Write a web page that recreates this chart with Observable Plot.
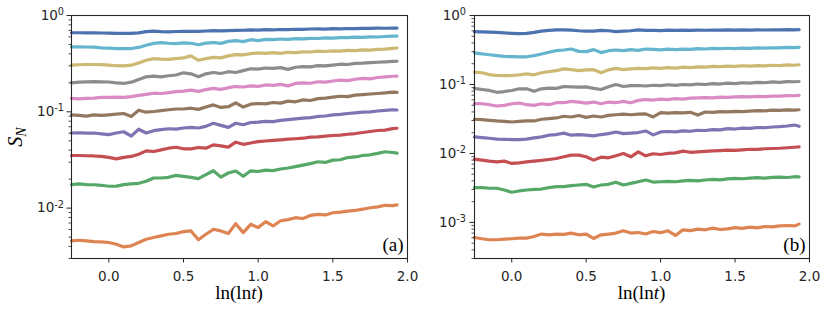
<!DOCTYPE html>
<html><head><meta charset="utf-8">
<script src="https://cdn.jsdelivr.net/npm/d3@7"></script>
<script src="https://cdn.jsdelivr.net/npm/@observablehq/plot@0.6"></script>
<style>
body{margin:0;background:#fff;}
#wrap{display:flex;width:830px;height:317px;overflow:hidden;background:#fff;}
#wrap svg{flex:none;}
</style></head><body><div id="wrap"></div>
<script>
// x values: ln(ln t)
const xs = [-0.25,-0.2,-0.15,-0.1,-0.05,0,0.05,0.1,0.15,0.2,0.25,0.3,0.35,0.4,0.45,0.5,0.55,0.6,0.65,0.7,0.75,0.8,0.85,0.9,0.95,1,1.05,1.1,1.15,1.2,1.25,1.3,1.35,1.4,1.45,1.5,1.55,1.6,1.65,1.7,1.75,1.8,1.85,1.9,1.93];

// series colours (seaborn deep), top to bottom
const seriesColors = ["#4C72B0","#64B5CD","#CCB974","#8C8C8C","#DA8BC3","#937860","#8172B3","#C44E52","#55A868","#DD8452"];

// panel (a)
const blueA = [0.662,0.662,0.661,0.660,0.658,0.656,0.652,0.651,0.653,0.660,0.680,0.689,0.681,0.676,0.682,0.684,0.686,0.683,0.690,0.698,0.694,0.697,0.700,0.703,0.708,0.706,0.712,0.710,0.716,0.714,0.720,0.718,0.724,0.727,0.723,0.730,0.728,0.733,0.731,0.736,0.734,0.738,0.737,0.741,0.740];
const cyanA = [0.472,0.472,0.471,0.469,0.462,0.458,0.453,0.452,0.454,0.466,0.491,0.513,0.523,0.515,0.511,0.519,0.515,0.497,0.516,0.524,0.514,0.539,0.548,0.535,0.561,0.548,0.566,0.561,0.570,0.566,0.575,0.571,0.580,0.577,0.585,0.583,0.590,0.588,0.595,0.592,0.600,0.598,0.605,0.610,0.612];
const oliveA = [0.305,0.308,0.310,0.310,0.309,0.305,0.301,0.300,0.305,0.322,0.343,0.357,0.352,0.351,0.357,0.363,0.381,0.343,0.357,0.368,0.363,0.381,0.393,0.390,0.402,0.410,0.405,0.412,0.404,0.415,0.412,0.420,0.418,0.426,0.423,0.430,0.427,0.435,0.432,0.440,0.437,0.445,0.448,0.456,0.460];
const grayA = [0.200,0.203,0.205,0.206,0.205,0.204,0.200,0.197,0.203,0.217,0.231,0.235,0.231,0.237,0.241,0.254,0.248,0.231,0.248,0.256,0.250,0.261,0.256,0.268,0.280,0.277,0.285,0.282,0.288,0.276,0.290,0.295,0.293,0.302,0.300,0.306,0.312,0.310,0.318,0.320,0.324,0.327,0.330,0.334,0.335];
const pinkA = [0.138,0.136,0.138,0.139,0.141,0.141,0.142,0.141,0.144,0.148,0.152,0.156,0.155,0.158,0.162,0.164,0.168,0.163,0.170,0.175,0.171,0.178,0.183,0.181,0.186,0.184,0.190,0.188,0.193,0.186,0.197,0.200,0.198,0.205,0.203,0.209,0.213,0.211,0.218,0.222,0.220,0.227,0.231,0.234,0.235];
const brownA = [0.0931,0.0917,0.0903,0.0931,0.0917,0.0931,0.0945,0.0960,0.0896,0.1040,0.0991,0.1007,0.103,0.105,0.107,0.107,0.109,0.106,0.112,0.118,0.111,0.113,0.124,0.112,0.120,0.122,0.121,0.125,0.123,0.129,0.127,0.133,0.131,0.137,0.139,0.142,0.145,0.144,0.149,0.151,0.153,0.155,0.157,0.160,0.159];
const purpleA = [0.0603,0.0606,0.0600,0.0603,0.0591,0.0579,0.0603,0.0621,0.0560,0.0660,0.0603,0.0637,0.0652,0.0667,0.0662,0.0679,0.0690,0.0679,0.0706,0.0760,0.0723,0.0690,0.0761,0.0735,0.0775,0.0780,0.0795,0.0790,0.0815,0.0830,0.0845,0.0861,0.0870,0.0895,0.0905,0.0931,0.0940,0.0960,0.0975,0.0991,0.1000,0.1020,0.1035,0.1050,0.1045];
const redA = [0.0352,0.0352,0.0350,0.0348,0.0344,0.0336,0.0325,0.0336,0.0344,0.0363,0.0393,0.0387,0.0403,0.0419,0.0429,0.0413,0.0413,0.0426,0.0419,0.0454,0.0443,0.0430,0.0484,0.0460,0.0475,0.0491,0.0498,0.0505,0.0512,0.0520,0.0525,0.0532,0.0545,0.0550,0.0560,0.0568,0.0572,0.0585,0.0595,0.0610,0.0625,0.0640,0.0645,0.0670,0.0675];
const greenA = [0.01755,0.01784,0.01755,0.01750,0.01727,0.01687,0.01690,0.01755,0.01784,0.01811,0.0190,0.02056,0.02056,0.0209,0.0219,0.0214,0.0209,0.02024,0.02226,0.02446,0.0210,0.02315,0.0243,0.0214,0.0244,0.0240,0.0248,0.0245,0.0255,0.0261,0.0270,0.0280,0.0290,0.0303,0.0298,0.0315,0.0318,0.0335,0.0340,0.0352,0.0358,0.0370,0.0385,0.0378,0.0372];
const orangeA = [0.00457,0.00464,0.00457,0.00450,0.00446,0.00440,0.00422,0.00396,0.00406,0.00440,0.00476,0.00495,0.00515,0.00536,0.00545,0.00571,0.00580,0.00470,0.00536,0.00603,0.00580,0.00545,0.00690,0.00557,0.00679,0.00628,0.00724,0.00653,0.00740,0.00760,0.00796,0.00780,0.00840,0.00861,0.00850,0.00896,0.00910,0.00930,0.00946,0.00975,0.0101,0.0103,0.0107,0.0106,0.0108];

// panel (b)
const blueB = [0.582,0.580,0.575,0.569,0.560,0.551,0.545,0.550,0.569,0.594,0.607,0.620,0.620,0.613,0.601,0.594,0.594,0.607,0.601,0.585,0.594,0.601,0.620,0.607,0.610,0.605,0.612,0.608,0.613,0.609,0.614,0.611,0.615,0.612,0.617,0.613,0.618,0.615,0.620,0.616,0.621,0.618,0.622,0.620,0.622];
const cyanB = [0.287,0.277,0.270,0.262,0.255,0.253,0.251,0.252,0.262,0.277,0.293,0.309,0.316,0.327,0.302,0.299,0.320,0.290,0.309,0.316,0.309,0.320,0.312,0.327,0.322,0.318,0.325,0.320,0.326,0.323,0.330,0.327,0.333,0.330,0.335,0.332,0.337,0.334,0.339,0.337,0.341,0.339,0.344,0.342,0.346];
const oliveB = [0.151,0.148,0.139,0.135,0.134,0.135,0.138,0.1426,0.138,0.148,0.154,0.159,0.168,0.164,0.159,0.163,0.164,0.148,0.163,0.171,0.164,0.168,0.171,0.170,0.174,0.171,0.176,0.173,0.178,0.175,0.180,0.178,0.183,0.181,0.185,0.183,0.187,0.185,0.188,0.186,0.190,0.188,0.192,0.190,0.193];
const grayB = [0.0877,0.0846,0.0819,0.0770,0.0790,0.0819,0.0866,0.0866,0.0800,0.0866,0.0886,0.0877,0.0935,0.0925,0.0915,0.0925,0.0877,0.0846,0.0925,0.1000,0.0935,0.0960,0.0967,0.0950,0.0975,0.0960,0.0990,0.0970,0.1000,0.0985,0.1015,0.1000,0.1030,0.1015,0.1045,0.1030,0.1060,0.1045,0.1075,0.1060,0.1090,0.1075,0.1100,0.1095,0.1104];
const pinkB = [0.0526,0.0526,0.0509,0.0487,0.0498,0.0526,0.0538,0.0509,0.0498,0.0526,0.0509,0.0544,0.0544,0.0569,0.0556,0.0538,0.0556,0.0526,0.0556,0.0544,0.0569,0.0544,0.0588,0.0605,0.0595,0.0615,0.0605,0.0625,0.0615,0.0635,0.0640,0.0645,0.0640,0.0655,0.0650,0.0660,0.0665,0.0660,0.0672,0.0668,0.0680,0.0678,0.0688,0.0686,0.0694];
const brownB = [0.0313,0.0309,0.0302,0.0296,0.0292,0.0286,0.0292,0.0296,0.0296,0.0313,0.0320,0.0327,0.0346,0.0338,0.0355,0.0334,0.0349,0.0338,0.0357,0.0364,0.0372,0.0364,0.0372,0.0375,0.0338,0.0390,0.0385,0.0392,0.0388,0.0395,0.0360,0.0399,0.0395,0.0403,0.0400,0.0408,0.0405,0.0412,0.0418,0.0415,0.0425,0.0422,0.0428,0.0426,0.0430];
const purpleB = [0.0174,0.0170,0.0166,0.0161,0.0160,0.0159,0.0159,0.0161,0.0168,0.0174,0.0184,0.0188,0.0197,0.0184,0.0188,0.0184,0.0180,0.0188,0.0194,0.0205,0.0194,0.0197,0.0201,0.0212,0.0186,0.0205,0.0208,0.0205,0.0212,0.0210,0.0217,0.0215,0.0222,0.0220,0.0229,0.0226,0.0233,0.0231,0.0238,0.0236,0.0242,0.0245,0.0250,0.0258,0.0248];
const redB = [0.00827,0.00800,0.00774,0.00756,0.00774,0.00716,0.00732,0.00756,0.00774,0.00792,0.00818,0.00846,0.00894,0.00945,0.00945,0.00894,0.00800,0.00884,0.00865,0.00925,0.01000,0.00894,0.01056,0.00925,0.00990,0.00966,0.01000,0.01020,0.01079,0.01040,0.01056,0.01070,0.01090,0.01100,0.01116,0.01105,0.01130,0.01150,0.01145,0.01170,0.01179,0.01190,0.01210,0.01230,0.01246];
const greenB = [0.00319,0.00319,0.00313,0.00313,0.00295,0.00274,0.00286,0.00295,0.00302,0.00305,0.00319,0.00330,0.00330,0.00341,0.00349,0.00357,0.00326,0.00349,0.00357,0.00382,0.00349,0.00369,0.00389,0.00412,0.00385,0.00389,0.00395,0.00389,0.00400,0.00408,0.00400,0.00412,0.00420,0.00415,0.00428,0.00436,0.00430,0.00440,0.00445,0.00438,0.00450,0.00455,0.00448,0.00460,0.00459];
const orangeB = [0.000605,0.000580,0.000561,0.000561,0.000574,0.000580,0.000593,0.000593,0.000626,0.000678,0.000662,0.000678,0.000670,0.000701,0.000662,0.000678,0.000585,0.000662,0.000678,0.000701,0.000756,0.000701,0.000715,0.000680,0.000739,0.000710,0.000756,0.000647,0.000782,0.000760,0.000800,0.000782,0.000827,0.000790,0.000808,0.000840,0.000820,0.000855,0.000835,0.000873,0.000860,0.000890,0.000902,0.000890,0.000945];

// ticks
const xTicks = [0, 0.5, 1, 1.5, 2];
const yMajorA = [0.01, 0.1, 1];
const yMinorA = [0.003,0.004,0.005,0.006,0.007,0.008,0.009,0.02,0.03,0.04,0.05,0.06,0.07,0.08,0.09,0.2,0.3,0.4,0.5,0.6,0.7,0.8,0.9];
const yMajorB = [0.001, 0.01, 0.1, 1];
const yMinorB = [0.0003,0.0004,0.0005,0.0006,0.0007,0.0008,0.0009,0.002,0.003,0.004,0.005,0.006,0.007,0.008,0.009,0.02,0.03,0.04,0.05,0.06,0.07,0.08,0.09,0.2,0.3,0.4,0.5,0.6,0.7,0.8,0.9];
const panelLabels = ["(a)", "(b)"];

const seriesA = [blueA, cyanA, oliveA, grayA, pinkA, brownA, purpleA, redA, greenA, orangeA];
const seriesB = [blueB, cyanB, oliveB, grayB, pinkB, brownB, purpleB, redB, greenB, orangeB];

function rows(series) {
  return series.flatMap((vals, i) => vals.map((v, j) => ({x: xs[j], y: v, s: i, c: seriesColors[i]})));
}

const ink = "#262626";
const serif = "'Liberation Serif', 'DejaVu Serif', serif";

function panel(series, opts) {
  const svg = Plot.plot({
    width: 415, height: 317,
    marginLeft: opts.ml, marginRight: opts.mr, marginTop: 15, marginBottom: 59,
    x: {domain: [-0.25, 2.0]},
    y: {type: "log", domain: opts.ydom},
    color: {type: "identity"},
    style: {fontFamily: "'DejaVu Sans', sans-serif", fontSize: "13.5px", color: ink, background: "transparent", overflow: "visible"},
    marks: [
      Plot.line(rows(series), {x: "x", y: "y", z: "s", stroke: "c", strokeWidth: 3.2, strokeLinejoin: "round", strokeLinecap: "round"}),
      Plot.frame({stroke: ink, strokeWidth: 1.1}),
      Plot.axisX({ticks: xTicks, tickFormat: d3.format(".1f"), tickSize: 4.5, tickPadding: 8, label: null, stroke: ink, strokeWidth: 1}),
      Plot.axisY({ticks: opts.minor, tickSize: 2.5, tickFormat: () => "", label: null, stroke: ink, strokeWidth: 0.8}),
      Plot.axisY({ticks: opts.major, tickSize: 4.5, tickPadding: opts.pad, tickFormat: d => "10^" + Math.round(Math.log10(d)), label: null, stroke: ink, strokeWidth: 1}),
      Plot.text([opts.tag], {frameAnchor: "bottom-right", text: d => d, dx: -4, dy: -8, lineAnchor: "bottom", textAnchor: "end", fontFamily: serif, fontSize: 19, fill: "black"})
    ]
  });
  // superscript exponents on y tick labels
  d3.select(svg).selectAll("text").each(function() {
    const t = this.textContent;
    const m = /^10\^(-?\d+)$/.exec(t);
    if (!m) return;
    const el = d3.select(this);
    el.text("");
    el.append("tspan").text("10");
    el.append("tspan").attr("dy", "-0.5em").attr("font-size", "0.72em").text(m[1]);
  });
  // x axis title: ln(ln t)
  const cx = opts.ml + (415 - opts.ml - opts.mr) / 2;
  const xt = d3.select(svg).append("text")
    .attr("x", cx).attr("y", 299).attr("text-anchor", "middle")
    .attr("font-family", serif).attr("font-size", 19).attr("fill", "black");
  xt.append("tspan").text("ln(ln");
  xt.append("tspan").attr("font-style", "italic").text("t");
  xt.append("tspan").text(")");
  if (opts.ylabel) {
    const yt = d3.select(svg).append("text")
      .attr("transform", "translate(22,137) rotate(-90)").attr("text-anchor", "middle")
      .attr("font-family", serif).attr("font-size", 20).attr("fill", "black");
    yt.append("tspan").attr("font-style", "italic").text("S");
    yt.append("tspan").attr("font-style", "italic").attr("font-size", "0.7em").attr("dy", "0.3em").text("N");
  }
  return svg;
}

const wrap = document.getElementById("wrap");
const svgA = panel(seriesA, {ml: 71, mr: 8, ydom: [0.003, 1], major: yMajorA, minor: yMinorA, pad: 3, tag: panelLabels[0], ylabel: true});
const svgB = panel(seriesB, {ml: 59, mr: 21, ydom: [0.0003, 1], major: yMajorB, minor: yMinorB, pad: 4, tag: panelLabels[1], ylabel: false});
svgA.style.position = "relative"; svgA.style.zIndex = "1";
wrap.appendChild(svgA);
wrap.appendChild(svgB);
</script>
</body></html>
